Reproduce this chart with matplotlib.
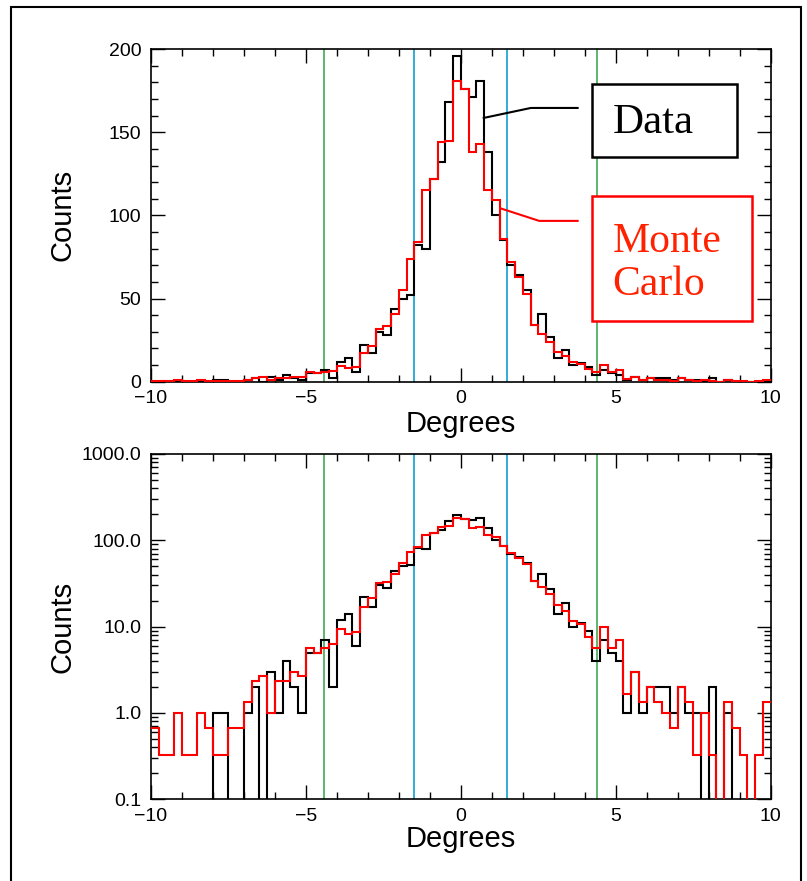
import numpy as np
import matplotlib
matplotlib.use("Agg")
import matplotlib.pyplot as plt
from matplotlib.patches import Rectangle
from matplotlib.ticker import MultipleLocator, LogLocator, FuncFormatter, NullFormatter

plt.rcParams['font.family'] = ['Liberation Sans', 'DejaVu Sans']

# 80 bins of 0.25 degrees from -10 to 10
bin_edges = np.linspace(-10, 10, 81)

data_counts = [
    0, 0, 0, 0, 0, 0, 0, 0, 1, 1,
    0, 0, 1, 2, 0, 3, 1, 4, 2, 1,
    5, 5, 7, 2, 12, 14, 6, 22, 17, 30,
    28, 44, 50, 52, 82, 80, 122, 132, 168, 196,
    176, 171, 181, 138, 100, 85, 70, 64, 55, 34,
    41, 27, 14, 19, 10, 11, 9, 4, 7, 5,
    4, 1, 3, 1, 2, 2, 2, 1, 2, 1,
    1, 0, 2, 0, 1, 0, 0, 0, 0, 0,
]

mc_counts = [
    0.67, 0.33, 0.33, 1.0, 0.33, 0.33, 1.0, 0.67, 0.33, 0.33,
    0.67, 0.67, 1.33, 2.33, 2.67, 1.0, 2.33, 2.33, 3.0, 2.67,
    5.67, 5.0, 5.67, 6.33, 9.33, 8.33, 8.67, 17.0, 21.67, 32.0,
    33.33, 41.0, 55.0, 74.0, 84.0, 115.0, 122.0, 144.0, 145.0, 181.0,
    176.0, 138.0, 143.0, 115.0, 109.0, 85.67, 72.0, 63.0, 53.0, 34.0,
    29.0, 24.0, 18.0, 15.33, 11.67, 10.67, 7.67, 5.67, 10.0, 5.67,
    7.0, 1.67, 3.0, 1.33, 2.0, 1.33, 1.0, 0.67, 2.0, 1.33,
    0.33, 1.0, 0.33, 0.0, 1.33, 0.67, 0.33, 0.0, 0.33, 1.33,
]

inner_cuts = [-1.5, 1.5]
outer_cuts = [-4.4, 4.4]

GREEN = '#4fb062'
CYAN = '#22a6d6'


def draw_panel(ax, log):
    d = np.array(data_counts, dtype=float)
    m = np.array(mc_counts, dtype=float)
    if log:
        # empty bins fall below the axis floor
        d = np.where(d > 0, d, 0.01)
        m = np.where(m > 0, m, 0.01)
    for x in outer_cuts:
        ax.axvline(x, color=GREEN, lw=1.3, zorder=1)
    for x in inner_cuts:
        ax.axvline(x, color=CYAN, lw=1.3, zorder=1)
    ax.stairs(d, bin_edges, color='black', lw=1.5, baseline=None, zorder=2)
    ax.stairs(m, bin_edges, color='red', lw=1.5, baseline=None, zorder=3)

    ax.set_xlim(-10, 10)
    ax.xaxis.set_major_locator(MultipleLocator(5))
    ax.xaxis.set_minor_locator(MultipleLocator(1))
    ax.tick_params(which='both', direction='in', top=True, right=True,
                   labelsize=14, width=1)
    ax.tick_params(which='major', length=10)
    ax.tick_params(which='minor', length=5)
    ax.tick_params(axis='x', which='major', pad=6)
    ax.tick_params(axis='y', which='major', pad=7)
    for s in ax.spines.values():
        s.set_linewidth(1.2)
    ax.set_xlabel('Degrees', fontsize=21)
    ax.set_ylabel('Counts', fontsize=21)
    ax.yaxis.set_label_coords(-0.12, 0.5)


fig = plt.figure(figsize=(8.07, 8.81), dpi=100)

ax1 = fig.add_axes([0.187, 0.5667, 0.768, 0.3776])
draw_panel(ax1, log=False)
ax1.set_ylim(0, 200)
ax1.yaxis.set_major_locator(MultipleLocator(50))
ax1.yaxis.set_minor_locator(MultipleLocator(10))
ax1.xaxis.set_label_coords(0.5, -0.085)

# legend boxes with pointer lines
ax1.plot([0.74, 2.26, 3.77], [158.6, 164.6, 164.6], color='black', lw=1.5, zorder=4)
ax1.plot([1.29, 2.53, 3.77], [104.2, 96.7, 96.7], color='red', lw=1.5, zorder=4)
ax1.add_patch(Rectangle((4.25, 135), 4.65, 43.9, facecolor='white',
                        edgecolor='black', lw=1.8, zorder=5))
ax1.add_patch(Rectangle((4.25, 36.3), 5.16, 75.1, facecolor='white',
                        edgecolor='red', lw=1.8, zorder=5))
ax1.text(4.9, 156, 'Data', fontsize=31, family='Liberation Serif',
         va='center', ha='left', zorder=6)
ax1.text(4.9, 71, 'Monte\nCarlo', fontsize=30, family='Liberation Serif',
         color='#ff2200', va='center', ha='left', linespacing=1.15, zorder=6)

ax2 = fig.add_axes([0.187, 0.0927, 0.768, 0.392])
draw_panel(ax2, log=True)
ax2.set_yscale('log')
ax2.set_ylim(0.1, 1000)
ax2.yaxis.set_major_locator(LogLocator(base=10, numticks=10))
ax2.yaxis.set_minor_locator(LogLocator(base=10, subs=np.arange(2, 10), numticks=20))
ax2.yaxis.set_minor_formatter(NullFormatter())
ax2.yaxis.set_major_formatter(FuncFormatter(lambda v, p: '%.1f' % v))
ax2.tick_params(which='both', direction='in', top=True, right=True)
ax2.tick_params(which='major', length=10)
ax2.tick_params(which='minor', length=5)
ax2.xaxis.set_label_coords(0.5, -0.075)

# outer frame round the whole picture
fig.add_artist(Rectangle((11 / 807, -0.02), 790 / 807, 1 - 7 / 881 + 0.02,
                         transform=fig.transFigure, fill=False,
                         edgecolor='black', lw=1.5))

fig.savefig('out.png', dpi=100)
